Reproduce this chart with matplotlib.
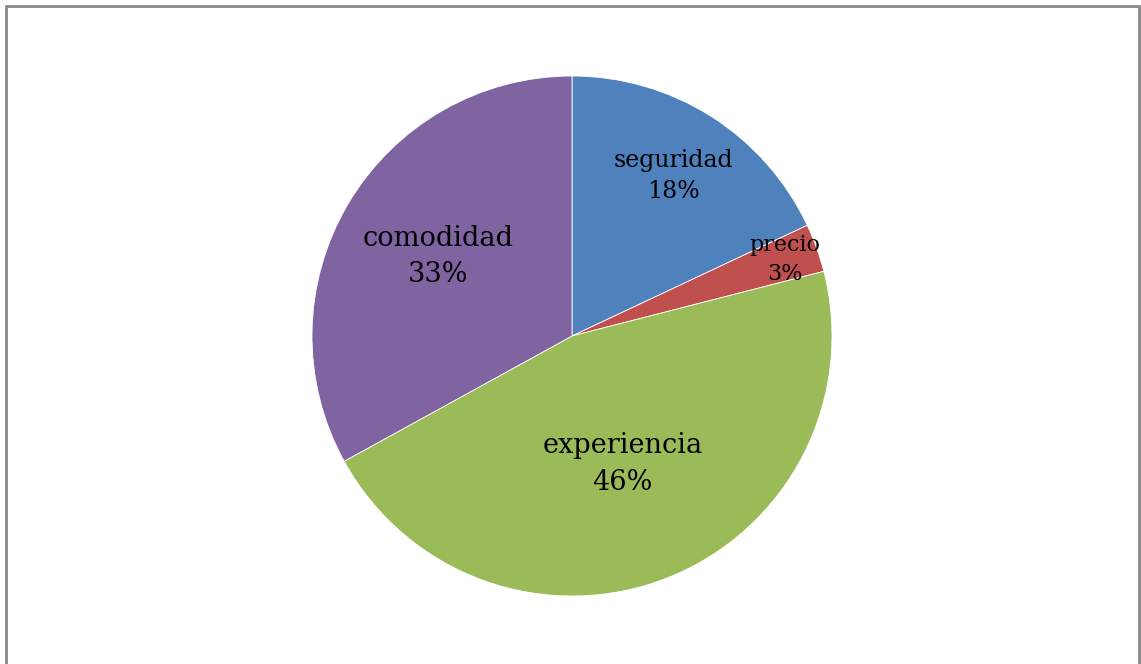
import numpy as np
import matplotlib.pyplot as plt
from matplotlib.patches import Rectangle

# Data
labels = ['seguridad', 'precio', 'experiencia', 'comodidad']
values = [18, 3, 46, 33]
colors = ['#4F81BD', '#C0504D', '#9BBB59', '#8064A2']
label_sizes = [17, 16, 19.5, 19.5]
label_dist = [0.73, 0.87, 0.53, 0.60]

W, H = 1141, 664
fig = plt.figure(figsize=(W / 100, H / 100), dpi=100)

# pie centre (572, 336) px, radius 260 px
cx, cy, r = 572, 336, 260
ax = fig.add_axes([(cx - r) / W, (H - cy - r) / H, 2 * r / W, 2 * r / H])
wedges, _ = ax.pie(values, colors=colors, startangle=90, counterclock=False,
                   radius=1, wedgeprops=dict(edgecolor='white', linewidth=0.6))
ax.set_xlim(-1, 1)
ax.set_ylim(-1, 1)
ax.set_aspect('equal')
ax.axis('off')

for w, lab, val, fs, d in zip(wedges, labels, values, label_sizes, label_dist):
    ang = np.deg2rad((w.theta1 + w.theta2) / 2)
    ax.text(d * np.cos(ang), d * np.sin(ang), f'{lab}\n{val}%',
            ha='center', va='center', fontsize=fs, family='DejaVu Serif',
            linespacing=1.45, color='black')

# outer frame
fig.patches.append(Rectangle((5.5 / W, -0.02), (1139 - 5.5) / W, (H - 5.5) / H + 0.02,
                             transform=fig.transFigure, fill=False,
                             edgecolor='#898989', linewidth=2))

fig.savefig('out.png', dpi=100)
